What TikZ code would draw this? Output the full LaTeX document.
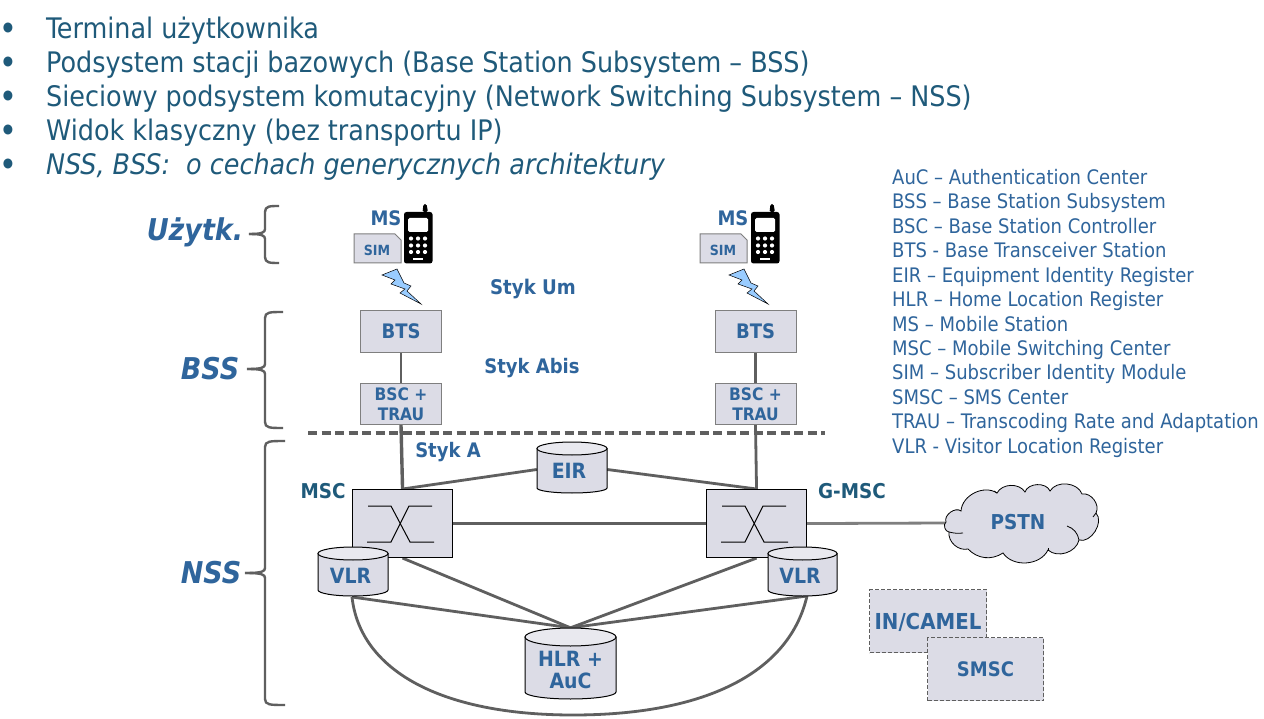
\documentclass[tikz,border=0pt]{standalone}
\usepackage{fontspec}
\setmainfont{DejaVu Sans Condensed}
\usetikzlibrary{backgrounds,calc}
\definecolor{lblue}{HTML}{2F659C}
\definecolor{ltop}{HTML}{1F5A7A}
\definecolor{boxfill}{HTML}{DCDCE6}
\definecolor{topfill}{HTML}{E9E9EF}
\definecolor{conn}{HTML}{5F5F5F}
\definecolor{boxedge}{HTML}{7F7F7F}
\definecolor{bolt}{HTML}{99CCFF}
\newcommand{\fs}[1]{\fontsize{#1pt}{#1pt}\selectfont}
\tikzset{
  toptext/.style={anchor=base west,inner sep=0pt,text=ltop,font=\fs{28.3}},
  bullettext/.style={anchor=base,inner sep=0pt,text=ltop,font=\fs{28.3}\bfseries},
  legendtext/.style={anchor=base west,inner sep=0pt,text=lblue,font=\fs{20}},
  boldlab/.style={inner sep=0pt,text=lblue,font=\fs{#1}\bfseries},
  boldlab/.default=20,
  darklab/.style={inner sep=0pt,text=ltop,font=\fs{20.4}\bfseries},
  grouplab/.style={inner sep=0pt,text=lblue,font=\fs{30}\bfseries\itshape},
  graybox/.style={draw=boxedge,line width=1pt,fill=boxfill,inner sep=0pt,align=center,text=lblue,font=\fs{20}\bfseries},
  switchbox/.style={draw=black,line width=1.1pt,fill=boxfill,inner sep=0pt},
  dashbox/.style={draw=conn,line width=1pt,dash pattern=on 4pt off 2pt,fill=boxfill,inner sep=0pt,text=lblue,font=\fs{20}\bfseries},
  connector/.style={draw=conn,line width=2.8pt},
  thinconn/.style={draw=boxedge,line width=2.8pt},
  heavyconn/.style={draw=conn,line width=3.4pt},
  bracepath/.style={draw=conn,line width=2.4pt,line join=round},
  cylout/.style={draw=black,line width=1pt,fill=boxfill},
  cyltop/.style={draw=black,line width=1pt,fill=topfill},
  crossline/.style={draw=black,line width=1pt},
}
% \cyl{name}{x1}{y1}{x2}{y2}{ry top}{ry bottom}{label shift}{font size}{text}
\newcommand{\cyl}[9]{%
  \path[cylout] (#2,#3+#6) -- (#2,#5-#7) arc[x radius=(#4-#2)/2,y radius=-#7,start angle=180,end angle=360] -- (#4,#3+#6) -- cycle;
  \path[cyltop] ({(#2+#4)/2},#3+#6) ellipse[x radius=(#4-#2)/2,y radius=#6];
  \node[minimum width=(#4-#2)*1pt,minimum height=(#5-#3)*1pt,inner sep=0pt,anchor=center] (#1) at ({(#2+#4)/2},{(#3+#5)/2}) {};
  \node[boldlab=#9,align=center] (#1t) at ($(#1.center)+#8$)}
% \switchbox{name}{x}
\newcommand{\switchnode}[2]{%
  \node[switchbox,minimum width=100pt,minimum height=68pt,anchor=north west] (#1) at (#2,489) {};
  \draw[crossline] (#2+16,506) -- (#2+39,506) -- (#2+58,542) -- (#2+82,542);
  \draw[crossline] (#2+15,542) -- (#2+39,542) -- (#2+57,506) -- (#2+80,506);
}
% \phone{shift}
\newcommand{\phonepic}[1]{%
  \begin{scope}[shift={(#1,0)}]
  \fill[black,rounded corners=1.5pt] (422.5,212) -- (423.5,204) -- (426.5,204) -- (428,212) -- cycle;
  \fill[black,rounded corners=2.5pt] (404,212) rectangle (432.5,263.5);
  \fill[white,rounded corners=1.5pt] (408,218) rectangle (428,232);
  \foreach \yy in {238.5,245.5,252} \foreach \xx in {411,418,425} \fill[white] (\xx,\yy) circle[radius=2.1];
  \fill[white] (413,258) rectangle (423,260);
  \end{scope}}
\newcommand{\boltpic}[1]{%
  \path[shift={(#1,0)},draw=black,line width=.5pt,fill=bolt,line join=miter]
    (382,275) -- (397,269) -- (404,283) -- (411,286) -- (407,291) -- (421,304) -- (400,293) -- (405,289) -- (391,284) -- (395,280) -- cycle;}
\newcommand{\simnode}[2]{%
  \path[draw=boxedge,line width=1pt,fill=boxfill] (#2,234) -- (#2+41,234) -- (#2+47,240) -- (#2+47,263) -- (#2,263) -- cycle;
  \node[boldlab=14] (#1) at (#2+23,250) {SIM};}
% \brc{top}{mid}{bot}{xtip}{xend}
\newcommand{\brc}[5]{%
  \path[bracepath] (#5,#1) .. controls (270,#1) and (265,#1) .. (265,#1+6) -- (265,#2-5) .. controls (265,#2-1.5) and (262,#2) .. (#4,#2);
  \path[bracepath] (#4,#2) .. controls (262,#2) and (265,#2+1.5) .. (265,#2+5) -- (265,#3-6) .. controls (265,#3) and (270,#3) .. (#5,#3);}
\begin{document}
\begin{tikzpicture}[x=1pt,y=-1pt]
\useasboundingbox (0,0) rectangle (1264,719);
\begin{scope}[on background layer]
\fill[white] (0,0) rectangle (1264,719);
\end{scope}
% top list
\foreach \yy/\nn in {39/a,73/b,107/c,141/d,175/e}{
  \node[bullettext] (bul\nn) at (8,\yy) {•};
}
\node[toptext] (t1) at (46,39) {Terminal użytkownika};
\node[toptext] (t2) at (46,73) {Podsystem stacji bazowych (Base Station Subsystem – BSS)};
\node[toptext] (t3) at (46,107) {Sieciowy podsystem komutacyjny (Network Switching Subsystem – NSS)};
\node[toptext] (t4) at (46,141) {Widok klasyczny (bez transportu IP)};
\node[toptext,font=\fs{28.3}\itshape] (t5) at (46,175) {NSS, BSS:\ \ o cechach generycznych architektury};
% legend
\foreach \yy/\nn/\tx in {
 184.5/l1/AuC – Authentication Center,
 208.9/l2/BSS – Base Station Subsystem,
 233.4/l3/BSC – Base Station Controller,
 257.8/l4/BTS - Base Transceiver Station,
 282.3/l5/EIR – Equipment Identity Register,
 306.7/l6/HLR – Home Location Register,
 331.1/l7/MS – Mobile Station,
 355.6/l8/MSC – Mobile Switching Center,
 380/l9/SIM – Subscriber Identity Module,
 404.5/l10/SMSC – SMS Center,
 428.9/l11/TRAU – Transcoding Rate and Adaptation,
 453.3/l12/VLR - Visitor Location Register}{
  \node[legendtext] (\nn) at (892,\yy) {\tx};
}
% groups
\node[grouplab] (guz) at (195,232.5) {Użytk.};
\node[grouplab] (gbss) at (210,368.5) {BSS};
\node[grouplab] (gnss) at (211,572.5) {NSS};
\brc{206}{234}{263}{249}{279}
\brc{312}{369}{428}{247}{283}
\brc{441}{573}{705}{245}{285}
% terminals
\phonepic{0}
\phonepic{347}
\simnode{siml}{354}
\simnode{simr}{700}
\node[boldlab=20] (msl) at (386,218) {MS};
\node[boldlab=20] (msr) at (733,218) {MS};
\boltpic{0}
\boltpic{347}
% BSS
\node[graybox,minimum width=81pt,minimum height=42pt,anchor=north west] (btsl) at (360,310) {BTS};
\node[graybox,minimum width=81pt,minimum height=42pt,anchor=north west] (btsr) at (714.5,310) {BTS};
\node[graybox,minimum width=81pt,minimum height=41pt,anchor=north west,font=\fs{17.2}\bfseries] (bscl) at (360,383) {BSC +\\[3pt]TRAU};
\node[graybox,minimum width=81pt,minimum height=41pt,anchor=north west,font=\fs{17.2}\bfseries] (bscr) at (714.5,383) {BSC +\\[3pt]TRAU};
\node[boldlab=20.2] (um) at (533,289.5) {Styk Um};
\node[boldlab=20] (abis) at (532,368.5) {Styk Abis};
\node[boldlab=20] (styka) at (448,452.5) {Styk A};
% NSS
\switchnode{mscl}{352}
\switchnode{mscr}{706}
\node[darklab] (msclab) at (323,491) {MSC};
\node[darklab] (gmsclab) at (852,491) {G-MSC};
\cyl{eir}{537}{442}{607}{493}{6.5}{5}{(-3,3.5)}{21}{EIR};
\cyl{vlrl}{318}{547}{388}{596}{6.5}{6}{(-2.5,4.5)}{21}{VLR};
\cyl{vlrr}{768}{547}{837}{596}{6.5}{6}{(-2.5,4.5)}{21}{VLR};
\cyl{hlr}{525}{628}{616}{699}{9}{7}{(0,6)}{21}{HLR +\\[1pt]AuC};
% cloud
\path[draw=black,line width=.8pt,fill=boxfill]
  (946,522) to[bend left=75] (961,511) to[bend left=60] (997,493)
  to[bend left=60] (1025,492) to[bend left=70] (1050,491)
  to[bend left=65] (1082,494) to[bend left=65] (1096,513)
  to[bend left=75] (1079,540) to[bend left=60] (1048,550)
  to[bend left=60] (1003,553) to[bend left=40] (968,549)
  to[bend left=55] (949,532) to[bend left=70] cycle;
\draw[black,line width=.8pt] (949,532) to[bend right=10] (963,533);
\draw[black,line width=.8pt] (1079,540) to[bend right=30] (1067,526);
\draw[black,line width=.8pt] (1096,513) to[bend left=20] (1093,517);
\draw[black,line width=.8pt] (1048,550) -- (1048,548);
\draw[black,line width=.8pt] (997,493) to[bend right=20] (994,491);
\node[boldlab=20.5] (pstn) at (1018,522) {PSTN};
\coordinate (pstnw) at (946,523);
% services
\node[dashbox,minimum width=117pt,minimum height=63pt,anchor=north west,font=\fs{22}\bfseries,text depth=0pt] (incamel) at (869,589) {IN/CAMEL};
\node[dashbox,minimum width=116pt,minimum height=63pt,anchor=north west] (smsc) at (927,637) {SMSC};
% dashed separator
\coordinate (sepa) at (308,433);
\coordinate (sepb) at (825,433);
\coordinate (vlrrb) at (807,596);
\coordinate (vlrlb) at (352,597);
\begin{scope}[on background layer]
\draw[draw=conn,line width=3.4pt,dash pattern=on 9pt off 4.5pt] (sepa) -- (sepb);
\draw[connector] (btsl) -- (bscl);
\draw[connector] (btsr) -- (bscr);
\draw[heavyconn] (bscl.south) -- (mscl.north);
\draw[connector] (bscr.south) -- (mscr.north);
\draw[connector] (mscl.north) -- ($(eir.west)+(0,2)$);
\draw[connector] ($(eir.east)+(0,2)$) -- (mscr.north);
\draw[heavyconn] (mscl.east) -- (mscr.west);
\draw[thinconn] (mscr.east) -- (pstnw);
\draw[connector] (mscl.south) -- (hlr.north);
\draw[connector] (mscr.south) -- (hlr.north);
\draw[connector] (vlrlb) -- (hlr.north);
\draw[connector] (vlrrb) -- (hlr.north);
\draw[connector] (vlrlb) .. controls (360,670) and (440,715) .. (573,715) .. controls (710,715) and (790,670) .. (vlrrb);
\end{scope}
\end{tikzpicture}
\end{document}
